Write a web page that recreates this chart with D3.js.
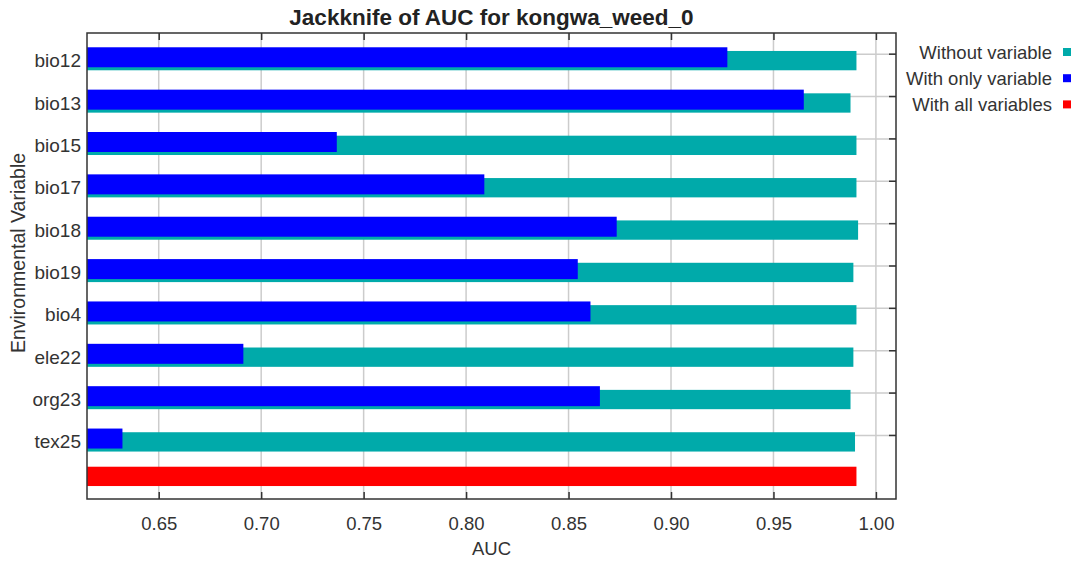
<!DOCTYPE html>
<html>
<head>
<meta charset="utf-8">
<script src="https://cdn.jsdelivr.net/npm/d3@7"></script>
<style>
  html, body { margin: 0; padding: 0; background: #fff; }
  svg { display: block; font-family: "Liberation Sans", Arial, sans-serif; }
</style>
</head>
<body>
<svg id="chart" width="1076" height="561"></svg>
<script>
const title = "Jackknife of AUC for kongwa_weed_0";
const categories = ["bio12", "bio13", "bio15", "bio17", "bio18", "bio19", "bio4", "ele22", "org23", "tex25"];
const withoutVariable = [0.9905, 0.9876, 0.9905, 0.9905, 0.9913, 0.9890, 0.9905, 0.9890, 0.9876, 0.9898];
const withOnlyVariable = [0.9275, 0.9648, 0.7369, 0.8089, 0.8735, 0.8545, 0.8607, 0.6913, 0.8653, 0.6323];
const withAllVariables = 0.9905;
const xTicks = [0.65, 0.70, 0.75, 0.80, 0.85, 0.90, 0.95, 1.00];
const legendLabels = ["Without variable", "With only variable", "With all variables"];
const colors = { without: "#00aaaa", only: "#0000ff", all: "#ff0000" };

const svg = d3.select("#chart");
const margin = { left: 87, right: 896, top: 33, bottom: 499 };

const rows = categories.concat(["__all__"]);
const x = d3.scaleLinear().domain([0.6150, 1.0098]).range([margin.left, margin.right]);
const y = d3.scaleBand().domain(rows).range([margin.top, margin.bottom]).padding(0);
const bw = y.bandwidth();
const center = d => y(d) + bw / 2;

// grid lines
const grid = svg.append("g");
grid.selectAll("line.vx").data(xTicks).join("line")
  .attr("x1", d => x(d)).attr("x2", d => x(d))
  .attr("y1", margin.top).attr("y2", margin.bottom)
  .attr("stroke", "#cccccc").attr("stroke-width", 1.5);
grid.selectAll("line.hy").data(categories).join("line")
  .attr("x1", margin.left).attr("x2", margin.right)
  .attr("y1", d => center(d)).attr("y2", d => center(d))
  .attr("stroke", "#cccccc").attr("stroke-width", 1.5);

// bars
const data = categories.map((c, i) => ({ c, without: withoutVariable[i], only: withOnlyVariable[i] }));
svg.append("g").selectAll("rect").data(data).join("rect")
  .attr("x", x.range()[0])
  .attr("y", d => center(d.c) - bw * 0.076)
  .attr("width", d => x(d.without) - x.range()[0])
  .attr("height", bw * 0.456)
  .attr("fill", colors.without);
svg.append("g").selectAll("rect").data(data).join("rect")
  .attr("x", x.range()[0])
  .attr("y", d => center(d.c) - bw * 0.163)
  .attr("width", d => x(d.only) - x.range()[0])
  .attr("height", bw * 0.472)
  .attr("fill", colors.only);
svg.append("rect")
  .attr("x", x.range()[0])
  .attr("y", center("__all__") - bw * 0.262)
  .attr("width", x(withAllVariables) - x.range()[0])
  .attr("height", bw * 0.456)
  .attr("fill", colors.all);

// axes (ticks inside)
const fmt = d3.format(".2f");
const xBottom = svg.append("g").attr("transform", `translate(0,${margin.bottom})`)
  .call(d3.axisBottom(x).tickValues(xTicks).tickFormat(fmt).tickSizeInner(-7).tickSizeOuter(0).tickPadding(18));
const xTop = svg.append("g").attr("transform", `translate(0,${margin.top})`)
  .call(d3.axisTop(x).tickValues(xTicks).tickFormat("").tickSizeInner(-7).tickSizeOuter(0));
const yRight = svg.append("g").attr("transform", `translate(${margin.right},0)`)
  .call(d3.axisRight(y).tickValues(categories).tickFormat("").tickSizeInner(-7).tickSizeOuter(0));
const yLeft = svg.append("g").attr("transform", `translate(${margin.left},0)`)
  .call(d3.axisLeft(y).tickValues(categories).tickSize(0).tickPadding(6));
[xBottom, xTop, yRight, yLeft].forEach(g => {
  g.select(".domain").remove();
  g.selectAll(".tick line").attr("stroke", "#333").attr("stroke-width", 1.5);
});
xBottom.selectAll("text").attr("font-size", 18.5).attr("fill", "#333").attr("font-family", "Liberation Sans, Arial, sans-serif");
yLeft.selectAll("text").attr("font-size", 19).attr("fill", "#333")
  .attr("font-family", "Liberation Sans, Arial, sans-serif")
  .attr("dy", null).attr("y", 13);

// frame
svg.append("rect")
  .attr("x", margin.left).attr("y", margin.top)
  .attr("width", margin.right - margin.left).attr("height", margin.bottom - margin.top)
  .attr("fill", "none").attr("stroke", "#333").attr("stroke-width", 1.5);

// title
svg.append("text")
  .attr("x", (margin.left + margin.right) / 2).attr("y", 25)
  .attr("text-anchor", "middle").attr("font-size", 22.5).attr("font-weight", "bold")
  .attr("fill", "#222").text(title);

// axis titles
svg.append("text")
  .attr("x", (margin.left + margin.right) / 2).attr("y", 555)
  .attr("text-anchor", "middle").attr("font-size", 18.5).attr("fill", "#333").text("AUC");
svg.append("text")
  .attr("transform", `translate(25,253) rotate(-90)`)
  .attr("text-anchor", "middle").attr("font-size", 19.5).attr("fill", "#333").text("Environmental Variable");

// legend
const legColors = [colors.without, colors.only, colors.all];
const leg = svg.append("g");
legendLabels.forEach((t, i) => {
  const cy = 52 + i * 26.2;
  leg.append("text").attr("x", 1052).attr("y", cy + 6.5)
    .attr("text-anchor", "end").attr("font-size", 18.5).attr("fill", "#333").text(t);
  leg.append("rect").attr("x", 1063).attr("y", cy - 4).attr("width", 8).attr("height", 8)
    .attr("fill", legColors[i]);
});
</script>
</body>
</html>
